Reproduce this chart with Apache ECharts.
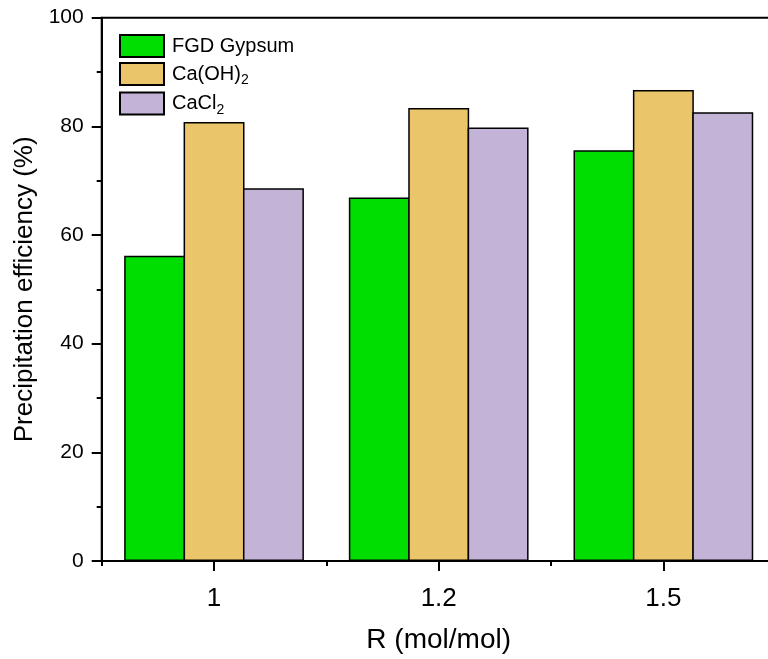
<!DOCTYPE html>
<html>
<head>
<meta charset="utf-8">
<style>
  html, body { margin: 0; padding: 0; background: #fff; }
  #chart { width: 768px; height: 659px; }
</style>
<script src="https://cdn.jsdelivr.net/npm/echarts@6/dist/echarts.min.js"></script>
</head>
<body>
<div id="chart"></div>
<script>
// Molar ratio R categories
const categories = ['1', '1.2', '1.5'];

// Precipitation efficiency (%) for each calcium source
const fgdGypsum = [56.2, 66.9, 75.6];
const caOH2 = [80.8, 83.4, 86.7];
const caCl2 = [68.6, 79.8, 82.6];

const yTicks = { min: 0, max: 100, interval: 20 };

const seriesNames = ['FGD Gypsum', 'Ca(OH)2', 'CaCl2'];
const seriesColors = ['#00dd00', '#ebc56a', '#c3b3d7'];
const seriesData = [fgdGypsum, caOH2, caCl2];

// Legend labels with subscripts via rich text
const legendLabels = {
  'FGD Gypsum': '{m|FGD Gypsum}',
  'Ca(OH)2': '{m|Ca(OH)}{s|2}',
  'CaCl2': '{m|CaCl}{s|2}'
};

const fontFamily = '"Liberation Sans", Arial, sans-serif';

const chart = echarts.init(document.getElementById('chart'), null, { renderer: 'canvas' });

chart.setOption({
  animation: false,
  backgroundColor: '#ffffff',
  textStyle: { fontFamily: fontFamily, color: '#000' },
  grid: {
    left: 101.7,
    top: 17.7,
    width: 674,
    height: 543.3,
    containLabel: false,
    outerBoundsMode: 'none',
    show: true,
    borderColor: '#000',
    borderWidth: 2,
    backgroundColor: 'transparent'
  },
  legend: {
    orient: 'vertical',
    left: 119,
    top: 34,
    itemWidth: 44,
    itemHeight: 22,
    itemGap: 4,
    padding: 0,
    icon: 'rect',
    data: seriesNames,
    formatter: function (name) { return legendLabels[name]; },
    textStyle: {
      fontFamily: fontFamily,
      color: '#000',
      rich: {
        m: { fontSize: 20, fontFamily: fontFamily, color: '#000', padding: [0, 0, 0, 3] },
        s: { fontSize: 14, fontFamily: fontFamily, color: '#000', padding: [13, 0, 0, 0] }
      }
    }
  },
  xAxis: [
    {
      type: 'category',
      data: categories,
      position: 'bottom',
      name: 'R (mol/mol)',
      nameLocation: 'middle',
      nameGap: 65,
      nameTextStyle: { fontSize: 28, fontFamily: fontFamily, color: '#000' },
      axisLine: { show: true, onZero: false, lineStyle: { color: '#000', width: 2 } },
      axisTick: { show: true, alignWithLabel: true, inside: false, length: 10, lineStyle: { color: '#000', width: 2 } },
      axisLabel: { fontSize: 26, fontFamily: fontFamily, color: '#000', margin: 25 },
      splitLine: { show: false }
    },
    {
      // boundary ticks between categories
      type: 'category',
      data: categories,
      position: 'bottom',
      axisLine: { show: false },
      axisTick: { show: true, alignWithLabel: false, inside: false, length: 5, lineStyle: { color: '#000', width: 2 } },
      axisLabel: { show: false },
      splitLine: { show: false }
    }
  ],
  yAxis: {
    type: 'value',
    min: yTicks.min,
    max: yTicks.max,
    interval: yTicks.interval,
    name: 'Precipitation efficiency (%)',
    nameLocation: 'middle',
    nameGap: 63,
    nameTextStyle: { fontSize: 26, fontFamily: fontFamily, color: '#000' },
    axisLine: { show: true, lineStyle: { color: '#000', width: 2 } },
    axisTick: { show: true, inside: false, length: 10, lineStyle: { color: '#000', width: 2 } },
    minorTick: { show: true, splitNumber: 2, length: 5, lineStyle: { color: '#000', width: 2 } },
    axisLabel: { fontSize: 21, fontFamily: fontFamily, color: '#000', margin: 18 },
    splitLine: { show: false }
  },
  series: seriesNames.map(function (name, i) {
    return {
      name: name,
      type: 'bar',
      xAxisIndex: 0,
      data: seriesData[i],
      barGap: '-2.5%',
      barCategoryGap: '20%',
      itemStyle: { color: seriesColors[i], borderColor: '#000', borderWidth: 1.5 }
    };
  })
});
</script>
</body>
</html>
